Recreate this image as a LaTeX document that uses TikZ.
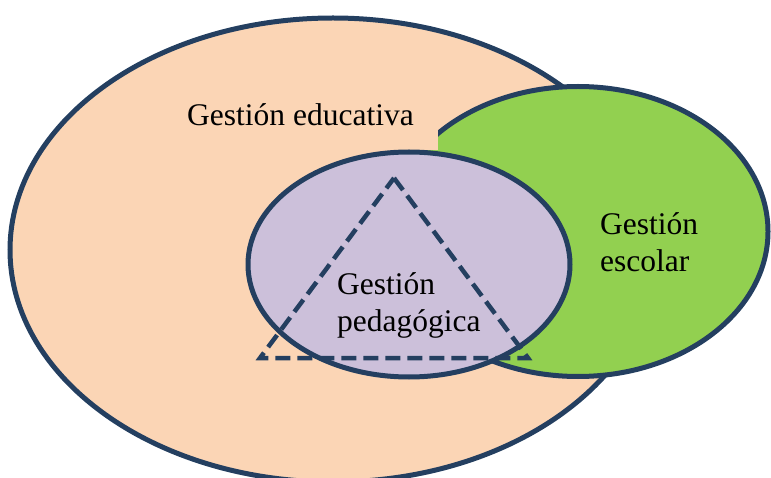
\documentclass[tikz,border=0pt]{standalone}
\usepackage{fontspec}
\setmainfont{Liberation Serif}
\definecolor{navy}{HTML}{243F60}
\definecolor{peach}{HTML}{FBD5B5}
\definecolor{leaf}{HTML}{92D050}
\definecolor{lilac}{HTML}{CCC0DA}
\begin{document}
\begin{tikzpicture}[x=1pt,y=-1pt,
  blob/.style={draw=navy,line width=5pt},
  lbl/.style={inner sep=0pt,anchor=base west,align=left,font=\fontsize{31.5}{37}\selectfont}]
\useasboundingbox (0,0) rectangle (771,478);
\clip (0,0) rectangle (771,478);
\draw[blob,fill=peach] (333,250) ellipse [x radius=323,y radius=232];
\draw[blob,fill=leaf] (578,231.5) ellipse [x radius=190,y radius=145];
\fill[peach] (380,100) rectangle (438,150);
\draw[blob,fill=lilac] (409,264.5) ellipse [x radius=161,y radius=112.5];
\coordinate (ta) at (394,178);
\coordinate (tl) at (260,358);
\coordinate (tr) at (528,358);
\draw[navy,line width=4.5pt,dash pattern=on 15pt off 7pt] (ta) -- (tr) -- (tl) -- cycle;
\node[lbl] (edu) at (187,126) {Gestión educativa};
\node[lbl] (esc) at (600,272) {Gestión\\escolar};
\node[lbl] (ped) at (337,331) {Gestión\\pedagógica};
\end{tikzpicture}
\end{document}
